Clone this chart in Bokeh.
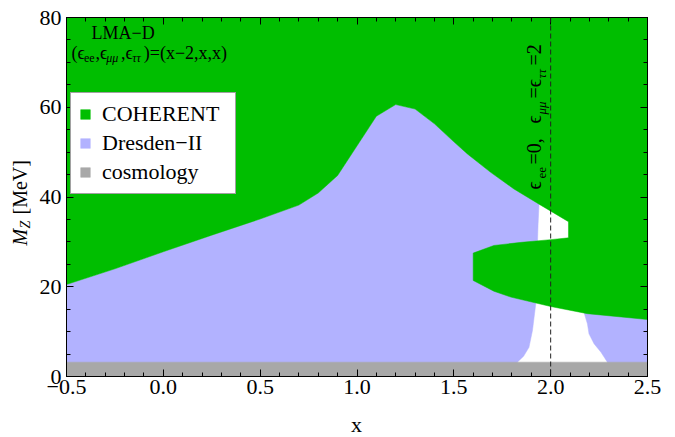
import math
from bokeh.plotting import figure
from bokeh.models import (Range1d, LinearAxis, SingleIntervalTicker, Legend, LegendItem,
                          Label, Span, CustomJSTickFormatter)
from bokeh.embed import file_html
from bokeh.resources import INLINE

# ---------------- data ----------------
# upper edge of the Dresden-II region (shared with the COHERENT edge)
dresden_top_x = [-0.5, -0.25, 0.0, 0.25, 0.5, 0.7, 0.8, 0.9, 1.1, 1.2, 1.3, 1.4, 1.5, 1.57, 1.69, 1.81, 1.94]
dresden_top_y = [20.5, 24.0, 27.8, 31.5, 35.1, 38.2, 40.9, 44.8, 58.0, 60.6, 59.6, 56.3, 52.3, 49.6, 45.5, 41.8, 38.4]
# left edge of the allowed (white) gap, top to bottom
gap_left_x = [1.935, 1.932, 1.928, 1.923, 1.906, 1.888, 1.86, 1.828, 1.82]
gap_left_y = [34.0, 30.0, 20.0, 16.2, 10.25, 6.5, 4.5, 3.2, 0.0]
# right edge of the allowed gap, top to bottom
gap_right_x = [2.168, 2.172, 2.19, 2.198, 2.224, 2.26, 2.293, 2.30]
gap_right_y = [16.0, 14.3, 11.7, 9.5, 7.3, 5.4, 3.2, 0.0]
# COHERENT: lower edge on the right (right to left), tongue top (left to right), pocket edge
coh_low_x = [2.5, 2.19, 2.0, 1.794, 1.707, 1.6]
coh_low_y = [12.7, 14.0, 15.6, 17.7, 19.0, 21.4]
coh_tongue_x = [1.6, 1.707, 1.85, 2.0, 2.092, 2.092]
coh_tongue_y = [27.5, 29.2, 29.9, 30.5, 30.9, 34.5]
# cosmology bound
cosmo_x = [-0.5, 2.5]
cosmo_top = 3.2
# reference line
x_line = 2.0

GREEN = "#00BE00"
LAV = "#B2B2FF"
GRAY = "#A8A8A8"
SERIF = "Liberation Serif"

X0, X1, Y0, Y1 = -0.5, 2.5, 0.0, 80.0
W, H = 675, 437
BL, BR, BT, BB = 66, 28, 17, 61
FW, FH = W - BL - BR, H - BT - BB
K = 0.38  # empirical anchor correction (fraction of font size)


def sx(px):
    return X0 + (px - BL) * (X1 - X0) / FW


def sy(py):
    return Y0 + (BT + FH - py) * (Y1 - Y0) / FH


p = figure(width=W, height=H, output_backend="svg", toolbar_location=None,
           x_range=Range1d(X0, X1), y_range=Range1d(Y0, Y1),
           min_border_left=BL, min_border_right=BR, min_border_top=BT, min_border_bottom=BB,
           x_axis_type=None, y_axis_type=None)
p.grid.visible = False
p.outline_line_color = "black"
p.outline_line_width = 1
p.background_fill_color = "white"

# Dresden-II (two pieces)
d_left_x = [X0] + dresden_top_x + gap_left_x + [X0]
d_left_y = [0.0] + dresden_top_y + gap_left_y + [0.0]
d_right_x = gap_right_x + [X1, X1]
d_right_y = gap_right_y + [0.0, gap_right_y[0]]
r_dres = p.patches(xs=[d_left_x, d_right_x], ys=[d_left_y, d_right_y],
                   fill_color=LAV, line_color=LAV, line_width=0.5)

# COHERENT
c_x = [X0, X1] + coh_low_x + coh_tongue_x + dresden_top_x[::-1]
c_y = [Y1, Y1] + coh_low_y + coh_tongue_y + dresden_top_y[::-1]
r_coh = p.patch(c_x, c_y, fill_color=GREEN, line_color=GREEN, line_width=0.5)

# cosmology
r_cos = p.patch(cosmo_x + cosmo_x[::-1], [0.0, 0.0, cosmo_top, cosmo_top],
                fill_color=GRAY, line_color=GRAY, line_width=0.5)

p.add_layout(Span(location=x_line, dimension="height", line_color="#222222",
                  line_dash="5 3", line_width=1))

# axes
def make_axis(ticker, labels, fmt):
    ax = LinearAxis(ticker=ticker, formatter=fmt)
    ax.major_tick_in = 7
    ax.major_tick_out = 0
    ax.minor_tick_in = 4
    ax.minor_tick_out = 0
    ax.axis_line_color = "black"
    ax.major_tick_line_color = "black"
    ax.minor_tick_line_color = "black"
    ax.major_label_text_font = SERIF
    ax.major_label_text_color = "black"
    if labels:
        ax.major_label_text_font_size = "22px"
    else:
        ax.major_label_text_font_size = "0px"
        ax.major_label_standoff = 0
    return ax

fx = CustomJSTickFormatter(code="return tick.toFixed(1).replace('-', '\\u2212');")
fy = CustomJSTickFormatter(code="return tick.toFixed(0);")
fe = CustomJSTickFormatter(code="return '';")
xb = make_axis(SingleIntervalTicker(interval=0.5, num_minor_ticks=5), True, fx)
xb.major_label_standoff = 3
yl = make_axis(SingleIntervalTicker(interval=20, num_minor_ticks=4), True, fy)
yl.major_label_standoff = 5
xt = make_axis(SingleIntervalTicker(interval=0.5, num_minor_ticks=5), False, fe)
yr = make_axis(SingleIntervalTicker(interval=20, num_minor_ticks=4), False, fe)
p.add_layout(xb, "below")
p.add_layout(yl, "left")
p.add_layout(xt, "above")
p.add_layout(yr, "right")

# legend
legend = Legend(items=[LegendItem(label="COHERENT", renderers=[r_coh]),
                       LegendItem(label="Dresden\u2212II", renderers=[r_dres]),
                       LegendItem(label="cosmology", renderers=[r_cos])],
                location=(4, 182))
legend.label_text_font = SERIF
legend.label_text_font_size = "22px"
legend.label_text_color = "black"
legend.glyph_width = 12
legend.glyph_height = 12
legend.label_standoff = 11
legend.label_width = 125
legend.spacing = 3
legend.padding = 8
legend.margin = 0
legend.border_line_color = "#444444"
legend.border_line_width = 1
legend.background_fill_color = "white"
legend.background_fill_alpha = 1.0
p.add_layout(legend, "center")


def lab(text, px, py, size, italic=False, angle=0.0, align="left", place="center"):
    # px, py: wanted baseline start point in canvas pixels
    if angle:
        px = px - K * size
    else:
        py = py - K * size
    p.add_layout(Label(x=sx(px), y=sy(py), text=text, text_font=SERIF,
                       text_font_size=f"{size}px",
                       text_font_style="italic" if italic else "normal",
                       text_color="black", angle=angle, text_align=align,
                       text_baseline="alphabetic"), place)

# annotation top-left
lab("LMA\u2212D", 91, 39, 18)
lab("(\u03f5", 71, 59, 18)
lab("ee", 83.5, 62, 12)
lab(",\u03f5", 95, 59, 18)
lab("\u03bc\u03bc", 105.7, 62, 12, italic=True)
lab(",\u03f5", 120.5, 59, 18)
lab("\u03c4\u03c4", 131.7, 62, 12, italic=True)
lab(")=(x\u22122,x,x)", 143.3, 59, 18)

# rotated annotation along the dashed line
A = math.pi / 2
lab("\u03f5", 541.5, 189, 20, angle=A)
lab("ee", 546, 178, 13, angle=A)
lab("=0,", 541.5, 164, 20, angle=A)
lab("\u03f5", 541.5, 123, 20, angle=A)
lab("\u03bc\u03bc", 546, 114, 13, italic=True, angle=A)
lab("=\u03f5", 541.5, 98, 20, angle=A)
lab("\u03c4\u03c4", 546, 78, 13, italic=True, angle=A)
lab("=2", 541.5, 65, 20, angle=A)

# axis titles (drawn outside the frame, hosted by the side panels)
lab("[MeV]", 27, 214, 20, angle=A, place="left")
lab("M", 27, 245, 20, italic=True, angle=A, place="right")
lab("Z", 30, 228, 14, italic=True, angle=A, place="above")
lab("x", 356, 432, 22, align="center", place="below")

open("out.html", "w").write(file_html(p, INLINE))
